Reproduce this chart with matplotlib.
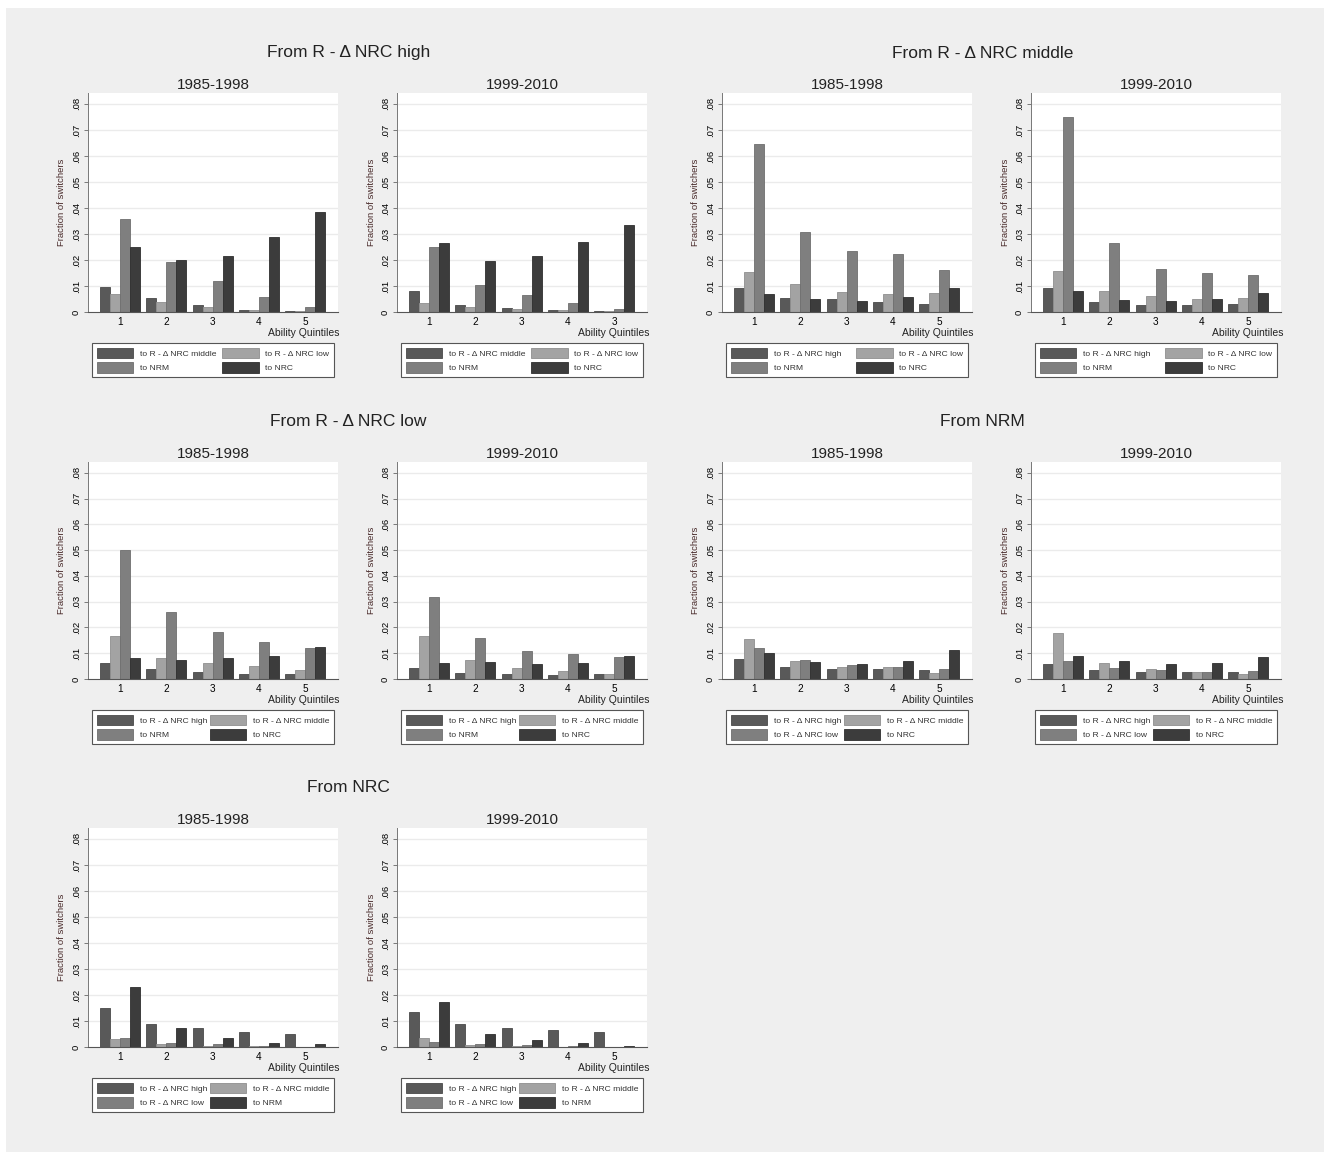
import numpy as np
import matplotlib.pyplot as plt
from matplotlib.patches import Rectangle, Patch

plt.rcParams['font.family'] = ['Liberation Sans', 'DejaVu Sans']

W, H = 1331, 1154

quintiles = ['1', '2', '3', '4', '5']
quintiles_b = ['1', '2', '3', '4', '3']   # as printed in the source panel
periods = ['1985-1998', '1999-2010']

# rows: series, columns: ability quintile 1..5
high_8598 = [[.0095, .0053, .0026, .0009, .0005],
             [.0069, .0037, .0021, .0009, .0003],
             [.0358, .0192, .0121, .0056, .0021],
             [.0249, .0200, .0214, .0287, .0383]]
high_9910 = [[.0079, .0026, .0015, .0008, .0004],
             [.0035, .0021, .0010, .0008, .0003],
             [.0251, .0103, .0067, .0033, .0013],
             [.0267, .0197, .0215, .0269, .0333]]
middle_8598 = [[.0092, .0054, .0049, .0037, .0031],
               [.0153, .0108, .0077, .0069, .0072],
               [.0644, .0306, .0233, .0223, .0160],
               [.0069, .0049, .0041, .0056, .0092]]
middle_9910 = [[.0092, .0038, .0028, .0028, .0031],
               [.0156, .0082, .0060, .0049, .0053],
               [.0751, .0267, .0167, .0149, .0141],
               [.0082, .0047, .0041, .0051, .0072]]
low_8598 = [[.0061, .0039, .0028, .0021, .0018],
            [.0165, .0081, .0061, .0049, .0034],
            [.0502, .0259, .0184, .0144, .0121],
            [.0080, .0075, .0080, .0089, .0126]]
low_9910 = [[.0041, .0023, .0021, .0015, .0018],
            [.0167, .0072, .0041, .0031, .0021],
            [.0317, .0161, .0110, .0097, .0085],
            [.0064, .0067, .0059, .0063, .0090]]
nrm_8598 = [[.0079, .0048, .0037, .0037, .0033],
            [.0155, .0070, .0048, .0045, .0022],
            [.0121, .0073, .0053, .0046, .0037],
            [.0100, .0067, .0058, .0071, .0111]]
nrm_9910 = [[.0059, .0036, .0028, .0028, .0028],
            [.0178, .0061, .0037, .0027, .0018],
            [.0071, .0044, .0033, .0028, .0031],
            [.0088, .0068, .0057, .0061, .0085]]
nrc_8598 = [[.0149, .0087, .0072, .0056, .0050],
            [.0031, .0010, .0005, .0003, .0001],
            [.0036, .0015, .0010, .0005, .0001],
            [.0231, .0073, .0033, .0014, .0010]]
nrc_9910 = [[.0133, .0090, .0073, .0064, .0059],
            [.0033, .0009, .0003, .0001, .0001],
            [.0021, .0010, .0008, .0003, .0001],
            [.0172, .0049, .0026, .0014, .0005]]

labels_high = ['to R - Δ NRC middle', 'to R - Δ NRC low', 'to NRM', 'to NRC']
labels_middle = ['to R - Δ NRC high', 'to R - Δ NRC low', 'to NRM', 'to NRC']
labels_low = ['to R - Δ NRC high', 'to R - Δ NRC middle', 'to NRM', 'to NRC']
labels_nrm = ['to R - Δ NRC high', 'to R - Δ NRC middle', 'to R - Δ NRC low', 'to NRC']
labels_nrc = ['to R - Δ NRC high', 'to R - Δ NRC middle', 'to R - Δ NRC low', 'to NRM']

groups = ['From R - Δ NRC high', 'From R - Δ NRC middle', 'From R - Δ NRC low',
          'From NRM', 'From NRC']

colors = ['#595959', '#a3a3a3', '#7f7f7f', '#3c3c3c']
edges = ['#4a4a4a', '#8f8f8f', '#6e6e6e', '#2e2e2e']

# (group title, data per period, legend labels, tick labels per period, column pair, row)
panels = [
    (groups[0], [high_8598, high_9910], labels_high, [quintiles, quintiles_b], 0, 0),
    (groups[1], [middle_8598, middle_9910], labels_middle, [quintiles, quintiles], 1, 0),
    (groups[2], [low_8598, low_9910], labels_low, [quintiles, quintiles], 0, 1),
    (groups[3], [nrm_8598, nrm_9910], labels_nrm, [quintiles, quintiles], 1, 1),
    (groups[4], [nrc_8598, nrc_9910], labels_nrc, [quintiles, quintiles], 0, 2),
]

col_x = [88, 397, 722, 1031]
rows = [(93, 312), (462, 679), (828, 1047)]
pw = 250

fig = plt.figure(figsize=(W / 100, H / 100), dpi=100, facecolor='white')
fig.patches.append(Rectangle((6 / W, 1 - 1152 / H), 1318 / W, 1144 / H,
                             transform=fig.transFigure, facecolor='#efefef',
                             edgecolor='none', zorder=-10))


def fx(px):
    return px / W


def fy(py):
    return 1 - py / H


x = np.arange(1, 6)
bw = 0.216

for gtitle, datas, leg_labels, ticks, pair, row in panels:
    top, zero = rows[row]
    pair_x0 = col_x[2 * pair]
    pair_x1 = col_x[2 * pair + 1] + pw
    fig.text(fx((pair_x0 + pair_x1) / 2 - 19), fy(top - 40), gtitle,
             ha='center', va='center', fontsize=12.5, color='#222222')
    for k in range(2):
        x0 = col_x[2 * pair + k]
        ax = fig.add_axes([fx(x0), fy(zero), pw / W, (zero - top) / H])
        ax.set_facecolor('white')
        data = datas[k]
        handles = []
        for s in range(4):
            ax.bar(x + (s - 1.5) * bw, data[s], width=bw, color=colors[s],
                   edgecolor=edges[s], linewidth=0.6, zorder=3)
            handles.append(Patch(facecolor=colors[s], edgecolor=edges[s], linewidth=0.6))
        ax.set_xlim(0.308, 5.71)
        ax.set_ylim(0, 0.0842)
        yt = np.arange(0, 0.081, 0.01)
        ax.set_yticks(yt)
        ax.set_yticklabels(['0'] + ['.0%d' % i for i in range(1, 9)],
                           rotation=90, va='center', fontsize=6.8)
        ax.set_xticks(x)
        ax.set_xticklabels(ticks[k], fontsize=7.2)
        ax.tick_params(axis='x', length=0, pad=3.5)
        ax.tick_params(axis='y', length=3, width=0.6, color='#666666', pad=2)
        for v in yt[1:]:
            ax.axhline(v, color='#ebebeb', linewidth=1.0, zorder=1)
        for side in ['top', 'right']:
            ax.spines[side].set_visible(False)
        ax.spines['left'].set_color('#777777')
        ax.spines['left'].set_linewidth(0.7)
        ax.spines['bottom'].set_color('#555555')
        ax.spines['bottom'].set_linewidth(0.8)
        ax.spines['bottom'].set_zorder(4)
        ax.set_ylabel('Fraction of switchers', fontsize=6.8, color='#4a2c2c',
                      labelpad=4)
        ax.set_title(periods[k], fontsize=11, color='#222222', pad=3)
        fig.text(fx(x0 + pw + 2), fy(zero + 21), 'Ability Quintiles',
                 ha='right', va='center', fontsize=7.5, color='#222222')
        order = [0, 2, 1, 3]
        leg = ax.legend([handles[i] for i in order], [leg_labels[i] for i in order],
                        ncol=2, loc='upper left', mode='expand',
                        bbox_to_anchor=(fx(x0 + 4), fy(zero + 66),
                                        242 / W, 35 / H),
                        bbox_transform=fig.transFigure, borderaxespad=0,
                        fontsize=6.1, handlelength=4.3, handleheight=1.5,
                        handletextpad=0.8, labelspacing=0.5, borderpad=0.55,
                        columnspacing=1.0, fancybox=False, framealpha=1)
        leg.get_frame().set_edgecolor('#555555')
        leg.get_frame().set_linewidth(0.8)
        for t in leg.get_texts():
            t.set_color('#333333')

fig.savefig('out.png', dpi=100, facecolor='white')
